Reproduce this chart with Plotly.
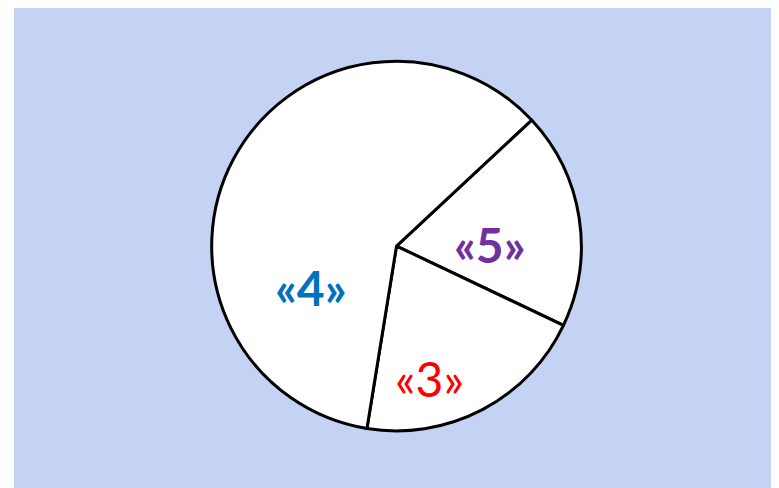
import plotly.graph_objects as go

# Data
labels = ['«5»', '«3»', '«4»']
values = [19, 20.5, 60.5]

text_colors = ['#7030a0', '#ff0000', '#0070c0']
text_weights = ['bold', 'normal', 'bold']
# label anchor points inside the slices (paper fractions)
label_x = [0.622, 0.543, 0.388]
label_y = [0.508, 0.229, 0.417]

fig = go.Figure(go.Pie(
    labels=labels,
    values=values,
    textinfo='none',
    sort=False,
    direction='clockwise',
    rotation=47,
    marker=dict(colors=['white'] * 3, line=dict(color='black', width=3)),
    domain=dict(x=[0, 1], y=[0.119, 0.889]),
    showlegend=False,
    hoverinfo='skip',
))

for lab, col, w, x, y in zip(labels, text_colors, text_weights, label_x, label_y):
    fig.add_annotation(text=lab, x=x, y=y, xref='paper', yref='paper',
                       xanchor='center', yanchor='middle', showarrow=False,
                       font=dict(family='Lato', size=48, color=col, weight=w))

# background panel
fig.add_shape(type='rect', xref='paper', yref='paper', x0=0, x1=1, y0=0, y1=1,
              fillcolor='#c4d2f3', line=dict(width=0), layer='below')

fig.update_layout(
    width=771, height=480,
    margin=dict(l=6, r=0, t=0, b=0),
    paper_bgcolor='white',
    plot_bgcolor='white',
)

fig.write_html("out.html")
